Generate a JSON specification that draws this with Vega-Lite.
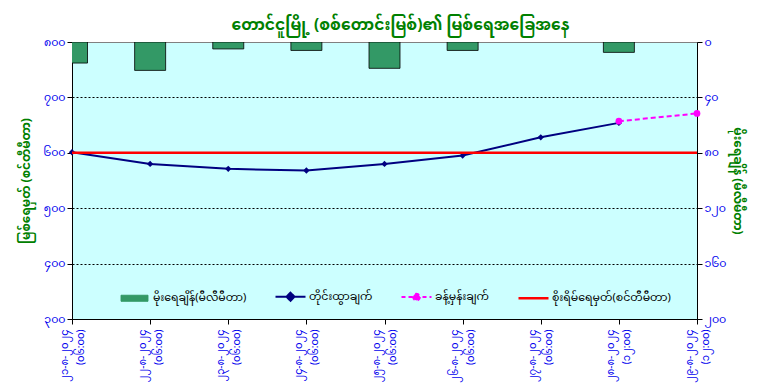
{
  "$schema": "https://vega.github.io/schema/vega-lite/v6.json",
  "width": 625,
  "height": 277,
  "autosize": {"type": "none"},
  "padding": {"left": 72, "top": 42, "right": 68, "bottom": 71},
  "background": "white",
  "config": {
    "font": "Noto Sans Myanmar, Padauk, Myanmar Text, Noto Sans, sans-serif",
    "view": {"fill": "#CCFFFF", "stroke": "#808080", "strokeWidth": 1},
    "axis": {"labelFont": "Noto Sans Myanmar, Padauk, Noto Sans, sans-serif"}
  },
  "title": {
    "text": "တောင်ငူမြို့ (စစ်တောင်းမြစ်)၏ မြစ်ရေအခြေအနေ",
    "color": "#008000",
    "fontSize": 15.5,
    "fontWeight": "bold",
    "anchor": "middle",
    "dx": 16,
    "offset": 3
  },
  "data": {
    "values": [
      {"cat": "၂၁-၈-၂၀၂၄|(၀၆:၀၀)", "series": "မိုးရေချိန်(မီလီမီတာ)", "value": 15.2},
      {"cat": "၂၂-၈-၂၀၂၄|(၀၆:၀၀)", "series": "မိုးရေချိန်(မီလီမီတာ)", "value": 20.5},
      {"cat": "၂၃-၈-၂၀၂၄|(၀၆:၀၀)", "series": "မိုးရေချိန်(မီလီမီတာ)", "value": 5.0},
      {"cat": "၂၄-၈-၂၀၂၄|(၀၆:၀၀)", "series": "မိုးရေချိန်(မီလီမီတာ)", "value": 6.1},
      {"cat": "၂၅-၈-၂၀၂၄|(၀၆:၀၀)", "series": "မိုးရေချိန်(မီလီမီတာ)", "value": 19.0},
      {"cat": "၂၆-၈-၂၀၂၄|(၀၆:၀၀)", "series": "မိုးရေချိန်(မီလီမီတာ)", "value": 6.1},
      {"cat": "၂၈-၈-၂၀၂၄|(၁၂:၀၀)", "series": "မိုးရေချိန်(မီလီမီတာ)", "value": 7.5},
      {"cat": "၂၁-၈-၂၀၂၄|(၀၆:၀၀)", "series": "တိုင်းထွာချက်", "value": 601},
      {"cat": "၂၂-၈-၂၀၂၄|(၀၆:၀၀)", "series": "တိုင်းထွာချက်", "value": 580},
      {"cat": "၂၃-၈-၂၀၂၄|(၀၆:၀၀)", "series": "တိုင်းထွာချက်", "value": 571},
      {"cat": "၂၄-၈-၂၀၂၄|(၀၆:၀၀)", "series": "တိုင်းထွာချက်", "value": 568},
      {"cat": "၂၅-၈-၂၀၂၄|(၀၆:၀၀)", "series": "တိုင်းထွာချက်", "value": 580},
      {"cat": "၂၆-၈-၂၀၂၄|(၀၆:၀၀)", "series": "တိုင်းထွာချက်", "value": 595},
      {"cat": "၂၇-၈-၂၀၂၄|(၀၆:၀၀)", "series": "တိုင်းထွာချက်", "value": 628},
      {"cat": "၂၈-၈-၂၀၂၄|(၁၂:၀၀)", "series": "တိုင်းထွာချက်", "value": 654},
      {"cat": "၂၈-၈-၂၀၂၄|(၁၂:၀၀)", "series": "ခန့်မှန်းချက်", "value": 657},
      {"cat": "၂၉-၈-၂၀၂၄|(၁၂:၀၀)", "series": "ခန့်မှန်းချက်", "value": 671},
      {"cat": "၂၁-၈-၂၀၂၄|(၀၆:၀၀)", "series": "စိုးရိမ်ရေမှတ်(စင်တီမီတာ)", "value": 600},
      {"cat": "၂၂-၈-၂၀၂၄|(၀၆:၀၀)", "series": "စိုးရိမ်ရေမှတ်(စင်တီမီတာ)", "value": 600},
      {"cat": "၂၃-၈-၂၀၂၄|(၀၆:၀၀)", "series": "စိုးရိမ်ရေမှတ်(စင်တီမီတာ)", "value": 600},
      {"cat": "၂၄-၈-၂၀၂၄|(၀၆:၀၀)", "series": "စိုးရိမ်ရေမှတ်(စင်တီမီတာ)", "value": 600},
      {"cat": "၂၅-၈-၂၀၂၄|(၀၆:၀၀)", "series": "စိုးရိမ်ရေမှတ်(စင်တီမီတာ)", "value": 600},
      {"cat": "၂၆-၈-၂၀၂၄|(၀၆:၀၀)", "series": "စိုးရိမ်ရေမှတ်(စင်တီမီတာ)", "value": 600},
      {"cat": "၂၇-၈-၂၀၂၄|(၀၆:၀၀)", "series": "စိုးရိမ်ရေမှတ်(စင်တီမီတာ)", "value": 600},
      {"cat": "၂၈-၈-၂၀၂၄|(၁၂:၀၀)", "series": "စိုးရိမ်ရေမှတ်(စင်တီမီတာ)", "value": 600},
      {"cat": "၂၉-၈-၂၀၂၄|(၁၂:၀၀)", "series": "စိုးရိမ်ရေမှတ်(စင်တီမီတာ)", "value": 600}
    ]
  },
  "encoding": {
    "x": {
      "field": "cat", "type": "nominal", "sort": null, "title": null,
      "scale": {"type": "point", "padding": 0, "domain": ["၂၁-၈-၂၀၂၄|(၀၆:၀၀)", "၂၂-၈-၂၀၂၄|(၀၆:၀၀)", "၂၃-၈-၂၀၂၄|(၀၆:၀၀)", "၂၄-၈-၂၀၂၄|(၀၆:၀၀)", "၂၅-၈-၂၀၂၄|(၀၆:၀၀)", "၂၆-၈-၂၀၂၄|(၀၆:၀၀)", "၂၇-၈-၂၀၂၄|(၀၆:၀၀)", "၂၈-၈-၂၀၂၄|(၁၂:၀၀)", "၂၉-၈-၂၀၂၄|(၁၂:၀၀)"]},
      "axis": {"labelAngle": 270, "labelExpr": "split(datum.label, '|')", "labelColor": "#0000EE", "labelFontSize": 10, "labelPadding": 5, "labelLineHeight": 16, "labelOffset": -8, "domainColor": "#000000", "tickColor": "#000000", "tickSize": 5, "grid": false}
    },
    "color": {
      "field": "series", "type": "nominal",
      "scale": {"domain": ["မိုးရေချိန်(မီလီမီတာ)", "တိုင်းထွာချက်", "ခန့်မှန်းချက်", "စိုးရိမ်ရေမှတ်(စင်တီမီတာ)"], "range": ["#339966", "#000080", "#FF00FF", "#FF0000"]},
      "legend": {
        "title": null, "orient": "none", "legendX": 57, "legendY": 249, "direction": "horizontal", "columns": 4,
        "columnPadding": 24, "symbolSize": 900, "labelFontSize": 11, "labelColor": "#000000", "labelOffset": 13, "labelLimit": 300,
        "symbolOpacity": 1,
        "symbolType": {"expr": "datum.index == 0 ? 'M-0.9,-0.2H0.9V0.2H-0.9Z' : datum.index == 1 ? 'M-1,0H1M0,-0.27L0.27,0L0,0.27L-0.27,0Z' : datum.index == 2 ? 'M-1,0H1M0.22,0A0.22,0.22,0,1,1,-0.22,0A0.22,0.22,0,1,1,0.22,0Z' : 'M-1,0H1'"},
        "symbolStrokeColor": {"expr": "datum.index == 0 ? '#000000' : datum.index == 1 ? '#000080' : datum.index == 2 ? '#FF00FF' : '#FF0000'"},
        "symbolStrokeWidth": {"expr": "datum.index == 0 ? 1 : datum.index == 3 ? 2.5 : 2"},
        "symbolDash": {"expr": "datum.index == 2 ? [4, 3] : [1, 0]"}
      }
    }
  },
  "resolve": {"scale": {"y": "independent"}, "axis": {"y": "independent"}},
  "layer": [
    {
      "transform": [{"filter": "datum.series == 'မိုးရေချိန်(မီလီမီတာ)'"}],
      "mark": {"type": "bar", "width": 31, "stroke": "#000000", "strokeWidth": 0.8, "clip": true},
      "encoding": {
        "y": {
          "field": "value", "type": "quantitative", "title": "မိုးရေချိန် (မီလီမီတာ)",
          "scale": {"domain": [0, 200], "reverse": true, "nice": false, "zero": true},
          "axis": {"orient": "right", "values": [0, 40, 80, 120, 160, 200], "labelExpr": "datum.value == 0 ? '၀' : datum.value == 40 ? '၄၀' : datum.value == 80 ? '၈၀' : datum.value == 120 ? '၁၂၀' : datum.value == 160 ? '၁၆၀' : '၂၀၀'", "labelColor": "#0000EE", "labelFontSize": 11, "titleColor": "#008000", "titleFontSize": 12, "titleFontWeight": "bold", "titlePadding": 5, "domainColor": "#000000", "tickColor": "#000000", "tickSize": 5, "grid": false}
        }
      }
    },
    {
      "layer": [
        {
          "transform": [{"filter": "datum.series == 'တိုင်းထွာချက်'"}],
          "mark": {"type": "line", "strokeWidth": 2},
          "encoding": {
            "y": {"field": "value", "type": "quantitative"}
          }
        },
        {
          "transform": [{"filter": "datum.series == 'တိုင်းထွာချက်'"}],
          "mark": {"type": "point", "shape": "diamond", "filled": true, "size": 40, "opacity": 1},
          "encoding": {
            "y": {"field": "value", "type": "quantitative"}
          }
        },
        {
          "transform": [{"filter": "datum.series == 'စိုးရိမ်ရေမှတ်(စင်တီမီတာ)'"}],
          "mark": {"type": "line", "strokeWidth": 2.5},
          "encoding": {
            "y": {"field": "value", "type": "quantitative"}
          }
        },
        {
          "transform": [{"filter": "datum.series == 'ခန့်မှန်းချက်'"}],
          "mark": {"type": "line", "strokeWidth": 2, "strokeDash": [5, 3]},
          "encoding": {
            "y": {"field": "value", "type": "quantitative"}
          }
        },
        {
          "transform": [{"filter": "datum.series == 'ခန့်မှန်းချက်'"}],
          "mark": {"type": "point", "shape": "circle", "filled": true, "size": 45, "opacity": 1},
          "encoding": {
            "y": {
              "field": "value", "type": "quantitative", "title": "မြစ်ရေမှတ် (စင်တီမီတာ)",
              "scale": {"domain": [300, 800], "nice": false, "zero": false},
              "axis": {"orient": "left", "values": [300, 400, 500, 600, 700, 800], "labelExpr": "datum.value == 300 ? '၃၀၀' : datum.value == 400 ? '၄၀၀' : datum.value == 500 ? '၅၀၀' : datum.value == 600 ? '၆၀၀' : datum.value == 700 ? '၇၀၀' : '၈၀၀'", "labelColor": "#0000EE", "labelFontSize": 11, "titleColor": "#008000", "titleFontSize": 12, "titleFontWeight": "bold", "titlePadding": 10, "domainColor": "#000000", "tickColor": "#000000", "tickSize": 5, "grid": true, "gridColor": "#000000", "gridDash": [2, 2], "gridWidth": 1, "gridOpacity": {"expr": "datum.value == 800 || datum.value == 300 ? 0 : 1"}}
            }
          }
        }
      ]
    }
  ]
}
